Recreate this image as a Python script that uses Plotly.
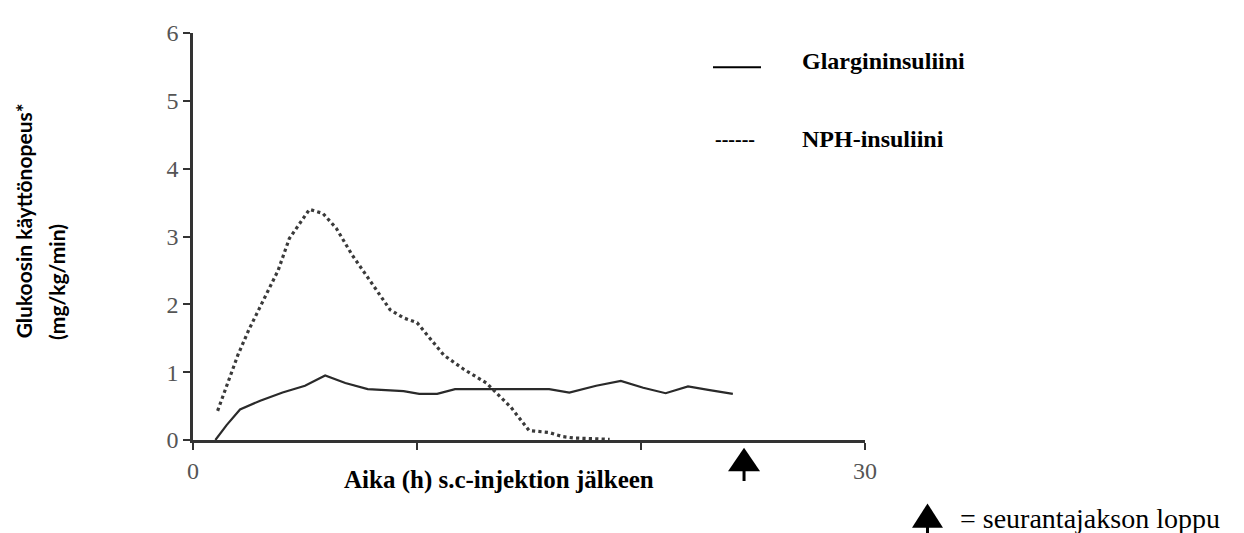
import plotly.graph_objects as go

# ---- data ----
glargine_t = [1.0, 1.5, 2.1, 3.0, 4.0, 5.0, 5.9, 6.8, 7.8, 9.4, 10.1, 10.9, 11.7, 13.5, 15.9, 16.8, 18.0, 19.1, 20.1, 21.1, 22.1, 23.0, 24.1]
glargine_y = [0.0, 0.22, 0.45, 0.58, 0.70, 0.80, 0.95, 0.84, 0.75, 0.72, 0.68, 0.68, 0.75, 0.75, 0.75, 0.70, 0.80, 0.87, 0.77, 0.69, 0.79, 0.74, 0.68]

nph_t = [1.1, 2.0, 2.5, 3.3, 3.8, 4.3, 4.9, 5.2, 5.8, 6.4, 7.1, 7.9, 8.8, 9.4, 10.0, 10.7, 11.2, 12.1, 13.1, 14.2, 15.0, 15.9, 16.5, 17.0, 18.6]
nph_y = [0.43, 1.25, 1.63, 2.16, 2.50, 2.97, 3.26, 3.40, 3.34, 3.12, 2.73, 2.35, 1.92, 1.80, 1.73, 1.45, 1.25, 1.04, 0.84, 0.48, 0.14, 0.11, 0.05, 0.03, 0.01]

series_names = ["Glargininsuliini", "NPH-insuliini"]
x_tick_vals = [0, 10, 20, 30]
x_tick_text = ["0", "", "", "30"]
y_tick_vals = [0, 1, 2, 3, 4, 5, 6]
end_of_followup = 24.6  # hours (arrow marker)

x_title = "Aika (h) s.c-injektion jälkeen"
y_title_1 = "Glukoosin käyttönopeus*"
y_title_2 = "(mg/kg/min)"
arrow_legend_text = "= seurantajakson loppu"

# ---- layout geometry ----
OFF = 8  # page body margin offset
W, H = 1244, 533
PW, PH = 672, 417
L, T = 193 - OFF, 23 - OFF
R, B = W - L - PW, H - T - PH


def px(xp):
    return (xp - OFF - L) / PW


def py(yp):
    return (T + PH - (yp - OFF)) / PH


fig = go.Figure()
fig.add_trace(go.Scatter(x=glargine_t, y=glargine_y, mode="lines", name=series_names[0],
                         line=dict(color="#2a2a2a", width=2.2), cliponaxis=False, showlegend=False))
fig.add_trace(go.Scatter(x=nph_t, y=nph_y, mode="lines", name=series_names[1],
                         line=dict(color="#3a3a3a", width=3.2, dash="dot"), cliponaxis=False, showlegend=False))

serif = "Liberation Serif"
fig.update_layout(
    width=W, height=H,
    margin=dict(l=L, r=R, t=T, b=B, pad=0),
    paper_bgcolor="white", plot_bgcolor="white",
    xaxis=dict(range=[0, 30], tickvals=x_tick_vals, ticktext=x_tick_text, ticks="outside",
               ticklen=7, tickwidth=2, tickcolor="#333", showline=True, linecolor="#333", linewidth=2.5,
               showgrid=False, zeroline=False, tickfont=dict(family=serif, size=24, color="#555")),
    yaxis=dict(range=[0, 6], tickvals=y_tick_vals, ticks="outside", ticklen=7, tickwidth=2,
               tickcolor="#333", showline=True, linecolor="#333", linewidth=2.5, showgrid=False,
               zeroline=False, ticklabelstandoff=0,
               tickfont=dict(family=serif, size=24, color="#555")),
    showlegend=False,
)

anns = []
# axis titles
anns.append(dict(x=px(499), y=py(481), xref="paper", yref="paper", text=x_title, showarrow=False,
                 xanchor="center", yanchor="middle",
                 font=dict(family=serif, size=25, color="black", weight="bold")))
anns.append(dict(x=px(23), y=py(216), xref="paper", yref="paper", text=y_title_1, showarrow=False,
                 textangle=-90, xanchor="center", yanchor="middle",
                 font=dict(family="Lato", size=21, color="black", weight="bold")))
anns.append(dict(x=px(57), y=py(278), xref="paper", yref="paper", text=y_title_2, showarrow=False,
                 textangle=-90, xanchor="center", yanchor="middle",
                 font=dict(family="Lato", size=21, color="black", weight="bold")))
# legend texts
anns.append(dict(x=px(800), y=py(52), xref="paper", yref="paper", text=series_names[0], showarrow=False,
                 xanchor="left", yanchor="middle",
                 font=dict(family=serif, size=24, color="black", weight="bold")))
anns.append(dict(x=px(800), y=py(132), xref="paper", yref="paper", text=series_names[1], showarrow=False,
                 xanchor="left", yanchor="middle",
                 font=dict(family=serif, size=24, color="black", weight="bold")))
anns.append(dict(x=px(735), y=py(132), xref="paper", yref="paper", text="------", showarrow=False,
                 xanchor="center", yanchor="middle",
                 font=dict(family=serif, size=20, color="black", weight="bold")))
anns.append(dict(x=px(958), y=py(520), xref="paper", yref="paper", text=arrow_legend_text, showarrow=False,
                 xanchor="left", yanchor="middle",
                 font=dict(family=serif, size=28, color="black")))
fig.update_layout(annotations=anns)

shapes = []
# legend solid line sample
shapes.append(dict(type="line", xref="paper", yref="paper", x0=px(713), x1=px(761), y0=py(58), y1=py(58),
                   line=dict(color="black", width=2)))
# end-of-follow-up arrow on axis (x in data units)
hw = 16 / PW * 30
shapes.append(dict(type="path", xref="x", yref="paper",
                   path=f"M {end_of_followup - hw} {py(472)} L {end_of_followup + hw} {py(472)} L {end_of_followup} {py(448)} Z",
                   fillcolor="black", line=dict(color="black", width=0)))
shapes.append(dict(type="line", xref="x", yref="paper", x0=end_of_followup, x1=end_of_followup,
                   y0=py(470), y1=py(482), line=dict(color="black", width=3)))
# legend arrow
shapes.append(dict(type="path", xref="paper", yref="paper",
                   path=f"M {px(912)} {py(530)} L {px(943)} {py(530)} L {px(927.5)} {py(505)} Z",
                   fillcolor="black", line=dict(color="black", width=0)))
shapes.append(dict(type="line", xref="paper", yref="paper", x0=px(927.5), x1=px(927.5),
                   y0=py(528), y1=py(540), line=dict(color="black", width=3)))
fig.update_layout(shapes=shapes)

fig.write_html("out.html")
